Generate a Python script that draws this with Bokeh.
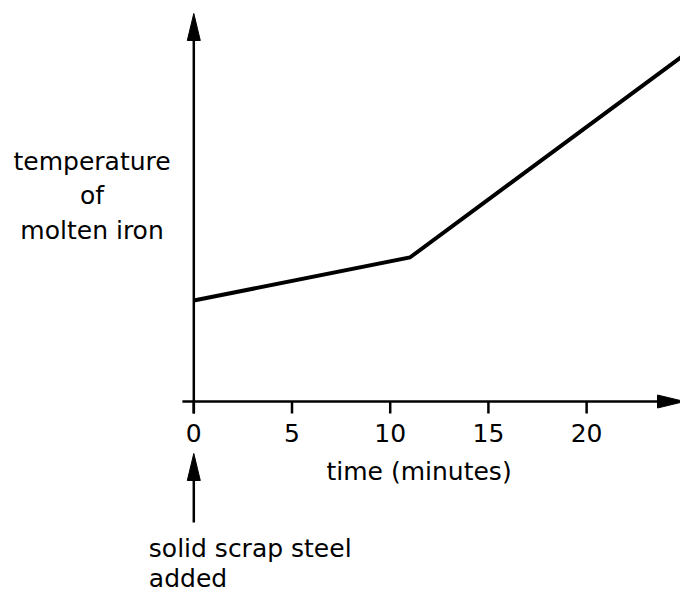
from bokeh.plotting import figure
from bokeh.models import Range1d
from bokeh.core.properties import value
from bokeh.embed import file_html
from bokeh.resources import INLINE

# ---- data (temperature in arbitrary units) ----
time_min = [0, 11, 25]
temperature = [101, 144, 347]

x_ticks = [0, 5, 10, 15, 20]
x_tick_labels = ["0", "5", "10", "15", "20"]

x_title = "time (minutes)"
y_title_lines = ["temperature", "of", "molten iron"]
note_lines = ["solid scrap steel", "added"]

# ---- figure ----
W, H = 680, 592
X0, X1 = -9.842, 24.78      # x range (minutes)
Y0, Y1 = -191, 401          # y range (arbitrary units, 1 unit ~ 1 px)
px_x = (X1 - X0) / W        # minutes per pixel

p = figure(width=W, height=H, output_backend="svg", toolbar_location=None,
           x_range=Range1d(X0, X1), y_range=Range1d(Y0, Y1),
           x_axis_location=None, y_axis_location=None, min_border=0)
p.outline_line_color = None
p.xgrid.visible = False
p.ygrid.visible = False
p.background_fill_color = "white"
p.border_fill_color = "white"

FONT = value("DejaVu Sans")
FS = "25px"
AX_W = 2.5
tick_len = 12
head_len = 27
head_half = 6.5
dy = 9  # baseline correction for rendered text

# x axis line + arrow
x_axis_start = -0.58
x_tip = X1 + 4 * px_x
x_base = x_tip - head_len * px_x
p.line([x_axis_start, x_base], [0, 0], line_color="black", line_width=AX_W)
p.patch([x_base, x_tip, x_base], [head_half, 0, -head_half], fill_color="black", line_color="black", line_width=1)

# y axis line + arrow
y_tip = Y1 - 13
y_base = y_tip - head_len
p.line([0, 0], [-tick_len, y_base], line_color="black", line_width=AX_W)
p.patch([-head_half * px_x, 0, head_half * px_x], [y_base, y_tip, y_base], fill_color="black", line_color="black", line_width=1)

# ticks
p.segment(x0=x_ticks, y0=[0] * len(x_ticks), x1=x_ticks, y1=[-tick_len] * len(x_ticks),
          line_color="black", line_width=AX_W)

# tick labels
p.text(x=x_ticks, y=[-40 + dy] * len(x_ticks), text=x_tick_labels, text_font=FONT, text_font_size=FS,
       text_align="center", text_baseline="alphabetic", text_color="black")

# x title
p.text(x=[11.47], y=[-79 + dy], text=[x_title], text_font=FONT, text_font_size=FS,
       text_align="center", text_baseline="alphabetic", text_color="black")

# y title (three lines)
p.text(x=[-5.18] * 3, y=[231 + dy, 197 + dy, 162 + dy], text=y_title_lines, text_font=FONT, text_font_size=FS,
       text_align="center", text_baseline="alphabetic", text_color="black")

# data line
p.line(time_min, temperature, line_color="black", line_width=4, line_join="miter")

# annotation arrow under x = 0
a_tip = -52
a_base = a_tip - head_len
p.line([0, 0], [a_base, -121], line_color="black", line_width=AX_W)
p.patch([-head_half * px_x, 0, head_half * px_x], [a_base, a_tip, a_base], fill_color="black", line_color="black", line_width=1)

p.text(x=[-2.29] * 2, y=[-156 + dy, -186 + dy], text=note_lines, text_font=FONT, text_font_size=FS,
       text_align="left", text_baseline="alphabetic", text_color="black")

open("out.html", "w").write(file_html(p, INLINE))
